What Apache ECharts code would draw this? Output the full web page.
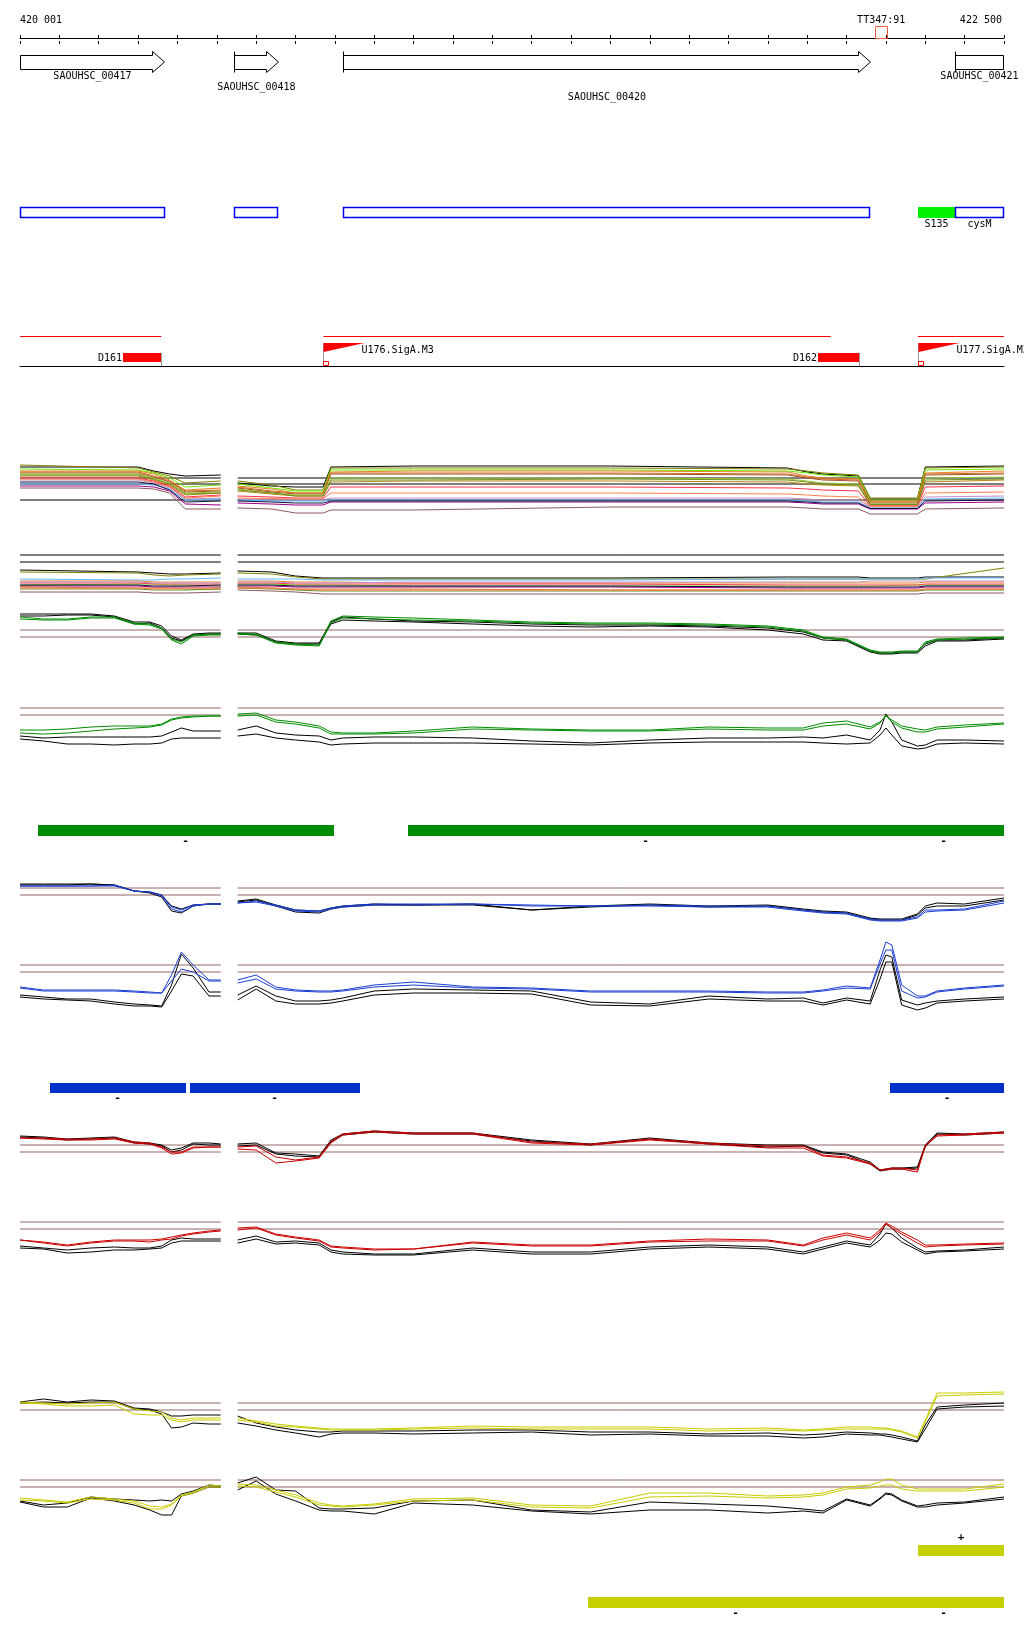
<!DOCTYPE html>
<html>
<head>
<meta charset="utf-8">
<title>SAOUHSC_00417 - SAOUHSC_00421</title>
<script src="https://cdn.jsdelivr.net/npm/echarts@6.0.0/dist/echarts.min.js"></script>
<style>
  html, body { margin: 0; padding: 0; background: #fff; }
  #chart { width: 1024px; height: 1640px; }
</style>
</head>
<body>
<div id="chart"></div>
<script>
const X_MIN = 420000
const X_MAX = 422500
const FONT = '10px "DejaVu Sans Mono", monospace'

// ruler
const rulerLabels = ['420 001', 'TT347:91', '422 500']
const rulerLabelPos = [420000, 422188, 422500]
const markerStart = [422172]
const markerEnd = [422203]

// genes
const geneNames = ['SAOUHSC_00417', 'SAOUHSC_00418', 'SAOUHSC_00420', 'SAOUHSC_00421']
const geneStart = [420000, 420544, 420821, 422375]
const geneEnd = [420369, 420659, 422162, 422500]
const geneLabelRow = [0, 1, 2, 0]

// transcription units
const unitStart = [420000, 420544, 420821, 422281, 422375]
const unitEnd = [420369, 420656, 422160, 422375, 422500]
const unitLabel = ['', '', '', 'S135', 'cysM']
const unitKind = ['cds', 'cds', 'cds', 'srna', 'cds']

// regulation
const segStart = [420000, 420771, 422281]
const segEnd = [420359, 422060, 422500]
const termName = ['D161', 'D162']
const termStart = [420262, 422027]
const termEnd = [420359, 422131]
const promName = ['U176.SigA.M3', 'U177.SigA.M3']
const promPos = [420771, 422281]

// segments (bars)
const greenBarStart = [420046, 420987, 422192]
const greenBarEnd = [420796, 422192, 422500]
const greenBarStrand = ['-', '-', '-']
const blueBarStart = [420076, 420432, 422210]
const blueBarEnd = [420420, 420862, 422500]
const blueBarStrand = ['-', '-', '-']
const yellowPlusStart = [422281]
const yellowPlusEnd = [422500]
const yellowPlusStrand = ['+']
const yellowMinusStart = [421444, 422192]
const yellowMinusEnd = [422192, 422500]
const yellowMinusStrand = ['-', '-']

// panel extents (gap between the two array panels)
const refPos = [420000, 420510, 420530, 420553, 422500]

// positions for the many-condition tracks
const posM = [420000, 420300, 420340, 420380, 420420, 420510, 420530, 420553, 420640, 420700, 420770, 420790, 421000, 421500, 421950, 422000, 422040, 422130, 422160, 422280, 422300, 422500]
// positions for the 2-colour tracks
const posG = [420000, 420060, 420120, 420180, 420240, 420290, 420330, 420360, 420385, 420410, 420440, 420480, 420510, 420530, 420553, 420600, 420650, 420700, 420760, 420790, 420820, 420900, 421000, 421150, 421300, 421450, 421600, 421750, 421900, 421990, 422040, 422100, 422160, 422185, 422200, 422215, 422240, 422280, 422300, 422330, 422400, 422500]

const multiColors = ['#000000', '#808000', '#66ee00', '#e8822a', '#a0522d', '#9acd32', '#b8860b', '#ff3050', '#c090c0', '#60b8ff', '#a0008a', '#101040', '#8b5a5a', '#d2691e', '#ff7f50', '#6b8e23']

const multiA = [
  [10.2,10.2,9.4,8.8,8.4,8.6,null,7.0,6.4,6.2,6.2,10.2,10.4,10.4,10.0,9.2,8.8,8.4,3.8,3.8,10.2,10.4],
  [10.6,10.0,9.2,8.4,7.0,7.4,null,7.4,6.6,5.6,5.6,10.0,10.0,10.0,9.8,9.4,9.0,8.6,4.0,4.0,10.0,10.2],
  [9.8,9.6,9.0,8.0,6.2,6.6,null,6.8,6.0,5.4,5.4,9.6,9.6,9.6,9.4,9.0,8.6,8.2,3.6,3.6,9.6,9.8],
  [9.4,9.4,8.8,7.6,5.6,6.0,null,6.4,5.8,5.0,5.0,9.2,9.4,9.4,9.2,8.4,8.0,7.8,3.4,3.4,9.0,9.4],
  [9.0,9.0,8.2,7.2,5.2,5.4,null,6.0,5.2,4.8,4.8,8.8,8.8,8.8,8.6,8.0,7.6,7.4,3.0,3.0,8.6,8.8],
  [8.8,8.8,8.0,7.0,5.0,5.2,null,5.8,5.0,4.6,4.6,8.0,8.0,8.0,7.8,7.4,7.0,6.8,2.8,2.8,8.0,8.2],
  [8.4,8.4,7.6,6.6,4.6,5.0,null,5.4,4.8,4.4,4.4,7.2,7.4,7.4,7.2,6.8,6.6,6.4,2.6,2.6,7.2,7.6],
  [8.0,8.0,7.4,6.4,4.2,4.6,null,4.4,4.2,4.0,4.0,6.2,6.2,6.2,6.0,5.8,5.6,5.4,2.4,2.4,6.2,6.4],
  [7.6,7.6,7.0,6.0,3.8,4.0,null,3.8,3.6,3.6,3.6,4.0,4.0,4.0,4.0,3.8,3.6,3.6,2.2,2.2,4.2,4.4],
  [6.8,6.8,6.6,5.8,3.6,3.8,null,3.6,3.4,3.4,3.4,3.6,3.6,3.6,3.6,3.4,3.2,3.2,2.0,2.0,3.8,4.0],
  [6.4,6.4,6.2,5.4,2.8,2.6,null,3.0,2.8,2.6,2.6,3.2,3.2,3.2,3.2,3.0,2.8,2.8,1.8,1.8,3.0,3.2],
  [7.2,7.2,6.8,5.6,3.2,3.4,null,3.4,3.2,3.0,3.0,3.4,3.4,3.4,3.4,3.2,3.0,3.0,1.9,1.9,3.4,3.6],
  [6.0,6.0,5.8,5.0,1.8,1.8,null,2.0,1.8,1.0,1.0,1.6,1.6,2.2,2.2,2.0,1.8,1.8,0.8,0.8,1.8,2.0],
  [9.2,9.2,8.4,7.4,5.4,5.6,null,6.2,5.4,5.0,5.0,9.0,9.0,9.0,8.8,8.2,7.8,7.6,3.2,3.2,8.8,9.0],
  [7.8,7.8,7.2,6.2,4.0,4.4,null,4.0,3.9,3.8,3.8,5.0,5.0,5.0,4.8,4.6,4.4,4.2,2.3,2.3,5.0,5.2],
  [8.6,8.6,7.8,6.8,4.8,5.0,null,5.6,5.0,4.4,4.4,7.6,7.6,7.8,7.6,7.2,6.8,6.6,2.7,2.7,7.6,7.8]
]
const multiARefs = [8.0, 6.8, 3.6]

const multiB = [
  [7.6,7.2,7.0,6.8,6.8,7.0,null,7.4,7.2,6.4,6.0,6.0,6.0,6.0,6.2,6.2,6.2,6.2,6.0,6.0,6.2,6.2],
  [7.2,7.0,6.6,6.4,6.6,6.8,null,7.0,6.8,6.2,5.8,5.8,5.8,5.8,5.8,5.8,5.8,5.8,5.8,5.8,5.8,8.0],
  [5.8,5.6,5.6,5.8,5.8,6.0,null,5.8,5.8,5.8,5.6,5.6,5.6,5.6,5.8,5.8,5.8,5.8,5.8,5.8,6.0,6.0],
  [5.4,5.4,5.2,5.2,5.2,5.2,null,5.4,5.4,5.2,5.2,5.2,5.0,5.0,5.0,5.0,5.0,5.0,5.0,5.0,5.2,5.2],
  [4.6,4.8,4.8,4.6,4.6,4.4,null,4.8,4.8,4.6,4.6,4.6,4.4,4.4,4.4,4.4,4.4,4.4,4.4,4.6,4.6,4.6],
  [5.0,5.0,4.8,4.8,4.8,4.8,null,5.0,5.0,4.8,4.8,4.8,4.8,4.8,4.6,4.6,4.6,4.6,4.6,4.6,4.8,4.8],
  [5.2,5.2,5.0,5.0,5.0,5.0,null,5.2,5.2,5.0,5.0,5.0,5.2,5.2,5.2,5.2,5.2,5.2,5.4,5.4,5.4,5.4],
  [4.4,4.4,4.2,4.2,4.2,4.2,null,4.4,4.4,4.2,4.2,4.2,4.2,4.2,4.0,4.0,4.0,4.0,4.0,4.0,4.2,4.2],
  [4.2,4.0,4.0,4.0,3.8,3.8,null,4.2,4.0,3.8,3.8,3.8,3.8,3.6,3.6,3.6,3.6,3.6,3.6,3.6,3.8,3.8],
  [3.8,3.8,3.6,3.6,3.6,3.8,null,4.0,3.8,3.6,3.4,3.4,3.4,3.4,3.4,3.4,3.4,3.4,3.4,3.4,3.6,3.6],
  [4.0,4.0,3.8,3.8,4.0,4.0,null,4.0,4.0,3.8,3.6,3.6,3.6,3.6,3.6,3.6,3.6,3.6,3.6,3.6,3.8,3.8],
  [4.6,4.6,4.4,4.4,4.4,4.6,null,4.6,4.6,4.4,4.4,4.4,4.4,4.4,4.2,4.2,4.2,4.2,4.2,4.2,4.4,4.4],
  [3.2,3.2,3.0,3.0,3.0,3.2,null,3.6,3.4,3.2,2.8,2.8,2.8,2.8,2.8,2.8,2.8,2.8,2.8,2.8,3.0,3.0]
]
const multiBColors = ['#000000', '#808000', '#60b8ff', '#e8822a', '#66ee00', '#ff3050', '#c090c0', '#a0008a', '#d2691e', '#6b8e23', '#ff7f50', '#101040', '#8b5a5a']
const multiBRefs = [10.6, 9.2]

// green condition
const green1Refs = [7.0, 5.6]
const green1BlackA = [10.2,10.2,10.2,10.2,9.8,8.6,8.6,7.8,5.8,5.0,6.2,6.4,6.4,null,6.4,6.4,4.8,4.4,4.4,8.6,9.6,9.2,8.8,8.6,8.2,8.0,8.0,7.8,7.4,6.6,5.4,5.0,2.8,2.4,2.4,2.4,2.6,2.6,4.2,5.0,5.0,5.4]
const green1BlackB = [9.8,9.8,10.0,10.0,9.6,8.2,8.4,7.4,5.4,4.8,6.0,6.2,6.2,null,6.2,6.0,4.6,4.2,4.2,8.2,9.0,8.8,8.6,8.2,7.8,7.6,7.8,7.6,7.0,6.2,5.0,4.8,2.6,2.2,2.2,2.2,2.4,2.4,3.8,4.8,4.8,5.2]
const green1A = [9.6,9.2,9.2,9.6,9.6,8.4,8.2,7.4,5.2,4.6,6.0,6.2,6.2,null,6.4,6.2,4.6,4.2,4.0,8.8,9.8,9.6,9.4,9.0,8.6,8.4,8.4,8.2,7.8,7.0,5.6,5.2,3.0,2.6,2.6,2.6,2.8,2.8,4.6,5.2,5.4,5.6]
const green1B = [9.2,9.0,9.0,9.4,9.4,8.2,8.0,7.2,5.0,4.2,5.8,6.0,6.0,null,6.2,6.0,4.4,4.0,3.8,8.4,9.4,9.2,9.0,8.8,8.4,8.2,8.2,8.0,7.6,6.8,5.4,5.0,2.8,2.4,2.4,2.4,2.6,2.6,4.4,5.0,5.2,5.4]

const green2Refs = [10.4, 9.0]
const green2A = [6.0,6.0,6.2,6.6,6.8,6.8,6.8,7.2,8.2,8.6,8.8,8.8,8.8,null,9.2,9.4,8.0,7.6,6.8,5.6,5.4,5.4,5.8,6.6,6.2,6.0,6.0,6.6,6.4,6.4,7.4,7.8,6.6,7.6,8.8,8.0,6.8,6.2,6.0,6.6,7.0,7.4]
const green2B = [5.4,5.2,5.4,5.8,6.2,6.4,6.6,7.0,8.0,8.4,8.6,8.8,8.8,null,8.8,9.0,7.6,7.2,6.4,5.2,5.2,5.2,5.4,6.2,6.0,5.8,5.8,6.2,6.0,6.0,6.8,7.2,6.2,7.4,9.0,7.6,6.4,5.6,5.6,6.2,6.6,7.2]
const green2BlackA = [4.8,4.4,4.6,4.6,4.6,4.6,4.6,4.8,5.6,6.4,5.8,5.8,5.8,null,6.0,6.8,5.4,5.0,4.8,4.0,4.4,4.6,4.6,4.4,3.8,3.4,4.0,4.4,4.4,4.6,4.4,5.0,4.0,6.0,9.2,7.6,4.0,2.8,3.0,4.0,4.0,3.8]
const green2BlackB = [4.2,3.8,3.2,3.2,3.0,3.2,3.2,3.4,4.2,4.4,4.4,4.4,4.4,null,4.8,5.2,4.4,4.0,3.6,3.0,3.2,3.4,3.4,3.4,3.2,3.0,3.4,3.6,3.6,3.6,3.4,3.2,3.4,5.0,6.4,5.0,2.8,2.2,2.4,3.2,3.4,3.2]

// blue condition
const blue1Refs = [9.4, 8.0]
const blue1BlackA = [10.2,10.2,10.2,10.2,10.0,8.8,8.6,8.0,5.8,5.2,6.0,6.2,6.2,null,6.8,7.2,6.0,5.0,4.8,5.4,5.8,6.2,6.0,6.2,5.0,5.8,6.2,5.8,6.0,5.2,4.8,4.6,3.4,3.2,3.2,3.2,3.2,4.2,5.8,6.4,6.2,7.4]
const blue1BlackB = [10.0,10.0,10.0,10.2,10.0,8.8,8.4,7.6,4.8,4.4,5.8,6.2,6.2,null,6.6,7.0,5.8,4.6,4.4,5.2,5.6,6.0,6.0,6.0,5.0,5.6,6.0,5.6,5.8,5.0,4.6,4.4,3.2,3.0,3.0,3.0,3.0,4.0,5.4,5.8,5.8,7.0]
const blue1A = [9.8,9.8,9.8,9.8,10.0,8.8,8.6,8.0,5.6,5.0,6.0,6.2,6.2,null,6.4,6.8,6.0,5.0,4.8,5.4,5.8,6.2,6.2,6.2,6.0,5.8,6.0,5.8,5.8,5.0,4.6,4.4,3.2,3.0,3.0,3.0,3.0,3.6,5.0,5.0,5.2,6.8]
const blue1B = [9.8,9.8,9.8,9.8,9.8,8.8,8.6,7.8,5.2,4.6,5.8,6.2,6.2,null,6.4,6.6,5.8,4.8,4.6,5.2,5.6,6.0,6.0,6.2,5.8,5.8,5.8,5.6,5.6,4.8,4.4,4.2,3.0,2.8,2.8,2.8,2.8,3.4,4.6,4.8,5.0,6.4]

const blue2Refs = [10.2, 8.8]
const blue2A = [5.8,5.2,5.2,5.2,5.2,5.0,4.8,4.6,8.2,12.8,10.2,7.2,7.2,null,7.2,8.2,5.8,5.2,5.0,5.0,5.2,6.2,6.8,5.8,5.6,5.0,5.0,5.0,4.8,4.8,5.2,6.0,5.6,11.2,14.8,14.2,6.2,4.0,4.0,5.0,5.6,6.2]
const blue2B = [5.6,5.0,5.0,5.0,5.0,4.8,4.6,4.6,7.0,9.4,8.8,7.0,7.0,null,6.6,7.4,5.4,5.0,4.8,4.8,5.0,5.8,6.2,5.6,5.4,4.8,4.8,4.8,4.6,4.6,5.0,5.6,5.4,10.4,13.2,13.2,5.0,3.6,3.8,4.8,5.4,6.0]
const blue2BlackA = [4.2,3.8,3.4,3.4,2.8,2.4,2.2,2.0,6.2,12.4,9.6,4.8,4.8,null,4.2,6.0,4.0,3.0,3.0,3.2,3.6,5.0,5.4,5.2,5.0,2.8,2.4,4.0,3.4,3.6,2.6,3.6,3.0,9.2,12.2,11.8,3.2,2.2,2.6,3.0,3.4,3.8]
const blue2BlackB = [3.8,3.4,3.2,3.0,2.4,2.0,2.0,1.8,5.0,8.4,8.0,4.0,4.0,null,3.2,5.4,3.0,2.4,2.4,2.6,3.0,4.2,4.6,4.6,4.4,2.2,2.0,3.4,3.0,3.0,2.2,3.2,2.4,7.4,10.8,10.8,2.2,1.2,1.6,2.6,3.0,3.4]

// red condition
const red1Refs = [7.0, 5.6]
const red1BlackA = [8.8,8.6,8.2,8.4,8.6,7.6,7.4,7.0,6.0,6.4,7.4,7.4,7.2,null,7.2,7.4,5.4,5.2,4.8,8.0,9.2,9.8,9.4,9.4,8.0,7.2,8.4,7.4,7.0,7.0,5.6,5.2,3.6,2.0,2.2,2.4,2.4,2.6,7.0,9.4,9.2,9.6]
const red1BlackB = [8.6,8.4,8.0,8.2,8.4,7.4,7.2,6.8,5.6,6.0,7.2,7.0,7.0,null,6.8,7.0,5.2,4.8,4.6,7.6,9.0,9.6,9.2,9.2,7.8,7.0,8.2,7.2,6.6,6.8,5.4,5.0,3.2,1.8,2.0,2.2,2.2,2.4,6.6,9.2,9.0,9.4]
const red1A = [8.4,8.4,8.2,8.2,8.4,7.6,7.4,6.6,5.6,5.6,6.6,6.6,6.6,null,6.6,6.8,4.6,4.0,4.6,7.8,9.2,9.8,9.4,9.4,7.6,7.2,8.2,7.4,6.8,6.8,5.0,4.6,3.4,2.0,2.2,2.4,2.4,2.0,7.0,9.0,9.2,9.6]
const red1B = [8.4,8.2,8.0,8.0,8.2,7.4,7.2,6.4,5.2,5.4,6.4,6.6,6.6,null,6.2,6.0,3.4,3.8,4.4,7.4,9.0,9.6,9.2,9.2,7.4,7.0,8.0,7.2,6.4,6.4,4.8,4.4,3.2,2.0,2.0,2.2,2.2,1.6,6.8,8.8,9.0,9.4]

const red2Refs = [8.6, 7.2]
const red2A = [5.0,4.6,4.0,4.6,5.0,5.0,5.0,5.2,5.6,6.0,6.4,6.8,7.0,null,7.4,7.6,6.2,5.6,5.0,3.8,3.6,3.2,3.2,4.6,4.0,4.0,4.8,5.2,5.0,4.0,5.4,6.4,5.4,7.0,8.4,7.8,6.6,5.0,4.0,4.0,4.2,4.4]
const red2B = [5.0,4.4,3.8,4.4,4.8,4.8,4.6,5.0,5.2,5.8,6.2,6.6,6.8,null,7.0,7.4,6.0,5.4,4.8,3.6,3.4,3.0,3.2,4.4,3.8,3.8,4.6,4.8,4.8,3.8,5.0,6.0,5.0,6.6,8.2,7.4,6.2,4.4,3.6,3.8,4.0,4.2]
const red2BlackA = [3.8,3.4,3.0,3.4,3.6,3.4,3.4,3.8,5.0,5.4,5.2,5.2,5.2,null,5.0,5.8,4.6,4.8,4.4,3.0,2.6,2.2,2.2,3.4,2.6,2.6,3.6,4.0,3.6,2.6,3.6,4.8,4.0,6.2,8.2,7.4,5.4,3.4,2.6,2.8,3.0,3.6]
const red2BlackB = [3.4,3.2,2.4,2.6,3.0,3.0,3.2,3.4,4.4,4.8,4.8,4.8,4.8,null,4.4,5.2,4.2,4.4,4.0,2.6,2.2,2.0,2.0,3.0,2.2,2.2,3.2,3.6,3.2,2.2,3.2,4.4,3.6,5.0,6.4,6.2,4.6,3.0,2.2,2.6,2.8,3.2]

// yellow condition
const yellow1Refs = [8.4, 7.0]
const yellow1A = [8.6,8.4,8.2,8.4,8.6,7.2,6.8,6.6,5.4,5.0,5.4,5.4,5.4,null,5.4,4.8,4.2,3.8,3.4,3.2,3.2,3.2,3.4,3.8,3.6,3.6,3.6,3.2,3.4,3.0,3.2,3.6,3.6,3.4,3.4,3.2,2.8,1.6,5.0,10.4,10.4,10.6]
const yellow1B = [8.4,8.2,7.8,7.8,8.0,6.2,6.0,6.0,5.0,4.6,5.0,5.0,5.0,null,5.0,4.6,3.8,3.6,3.2,3.0,3.0,3.0,3.2,3.4,3.2,3.2,3.2,2.8,3.0,2.8,3.0,3.2,3.2,3.2,3.2,3.0,2.6,1.4,4.6,9.8,10.0,10.2]
const yellow1BlackA = [8.6,9.2,8.6,9.0,8.8,7.4,7.2,6.6,5.8,5.8,6.0,6.0,6.0,null,5.8,4.4,3.6,3.0,2.6,2.6,2.8,2.8,2.8,3.0,3.0,2.6,2.6,2.2,2.4,2.0,2.2,2.6,2.4,2.2,2.2,2.0,1.6,0.8,4.0,7.6,8.0,8.4]
const yellow1BlackB = [8.4,8.6,8.4,8.6,8.6,7.2,7.0,6.2,3.4,3.6,4.4,4.2,4.2,null,4.4,3.8,3.0,2.4,1.6,2.2,2.4,2.4,2.2,2.4,2.6,2.0,2.2,1.8,1.8,1.4,1.6,2.2,2.0,2.0,1.8,1.6,1.2,0.6,3.2,7.2,7.6,7.8]

const yellow2Refs = [9.0, 7.6]
const yellow2A = [5.4,5.0,4.6,5.6,5.2,4.8,3.8,3.6,4.2,6.0,6.6,8.0,7.8,null,8.2,8.0,7.0,6.0,4.4,4.0,3.8,4.2,5.2,5.4,4.0,3.8,6.4,6.4,5.8,6.0,6.4,7.6,8.0,8.6,9.2,9.2,8.0,7.2,7.2,7.2,7.2,8.2]
const yellow2B = [5.0,4.8,4.4,5.2,5.0,4.4,3.2,3.2,4.0,5.8,6.4,7.6,7.6,null,7.8,7.6,6.6,5.6,4.0,3.8,3.6,4.0,4.8,5.0,3.6,3.4,5.6,5.8,5.4,5.6,6.0,7.2,7.4,7.8,8.0,8.0,7.2,6.8,6.8,6.8,6.8,7.6]
const yellow2BlackA = [4.8,4.0,4.4,5.6,5.2,5.0,4.8,5.0,4.8,6.2,6.8,8.0,7.8,null,8.4,9.6,7.0,6.8,3.4,3.2,3.2,3.4,4.8,5.0,3.0,2.6,4.6,4.2,3.8,3.2,2.8,5.2,4.0,5.4,6.4,6.2,5.0,3.8,4.0,4.4,4.6,5.6]
const yellow2BlackB = [4.6,3.6,3.6,5.4,4.8,4.0,3.0,2.0,2.0,5.8,6.4,7.6,7.6,null,7.0,8.8,6.2,4.8,3.0,2.8,2.8,2.2,4.4,4.0,2.8,2.2,3.0,3.0,2.4,2.8,2.4,5.0,3.8,5.2,6.2,6.0,4.8,3.6,3.6,4.0,4.4,5.2]

const GREEN = '#008c00'
const BLUE = '#1a3ed2'
const RED = '#cc0000'
const YELLOW = '#c8cc00'
const REF = '#966464'

const grids = []
const xAxes = []
const yAxes = []
const series = []

function addGrid(top, height, ymax, xAxisExtra) {
  const idx = grids.length
  grids.push({ left: 20, right: 20, top, height, outerBoundsMode: 'none' })
  xAxes.push(Object.assign({
    type: 'value', gridIndex: idx, min: X_MIN, max: X_MAX, show: false
  }, xAxisExtra || {}))
  yAxes.push({ type: 'value', gridIndex: idx, min: 0, max: ymax, show: false })
  return idx
}

function lineSeries(g, pos, vals, color, z) {
  return {
    type: 'line',
    xAxisIndex: g,
    yAxisIndex: g,
    data: pos.map((p, i) => [p, vals[i]]),
    symbol: 'none',
    connectNulls: false,
    silent: true,
    z,
    lineStyle: { color, width: 1 }
  }
}

function addTrack(top, height, refs, refColor, pos, lines) {
  const g = addGrid(top, height, height / 5)
  refs.forEach(v => series.push(lineSeries(g, refPos, [v, v, null, v, v], refColor, 1)))
  lines.forEach(l => series.push(lineSeries(g, pos, l[0], l[1], 2)))
}

function text(str, x, y, align, extra) {
  return {
    type: 'text',
    silent: true,
    style: Object.assign({ text: str, x, y, align, verticalAlign: 'middle', font: FONT, fill: '#000' }, extra || {})
  }
}

function customSeries(g, starts, ends, renderItem) {
  return {
    type: 'custom',
    xAxisIndex: g,
    yAxisIndex: g,
    silent: true,
    data: starts.map((s, i) => [s, ends[i], 0]),
    encode: { x: [0, 1], y: 2 },
    renderItem
  }
}

// ---- ruler ----
const gRulerUp = addGrid(35, 3, 1, {
  show: true, position: 'bottom', interval: 100,
  axisLine: { show: true, lineStyle: { color: '#000', width: 1 } },
  axisTick: { show: true, inside: true, length: 3, lineStyle: { color: '#000' } },
  axisLabel: { show: false }, splitLine: { show: false }
})
addGrid(38, 3, 1, {
  show: true, position: 'top', interval: 100,
  axisLine: { show: false },
  axisTick: { show: true, inside: true, length: 3, lineStyle: { color: '#000' } },
  axisLabel: { show: false }, splitLine: { show: false }
})
series.push(customSeries(gRulerUp, rulerLabelPos, rulerLabelPos, (params, api) => {
  const i = params.dataIndex
  const cs = params.coordSys
  const x = api.coord([rulerLabelPos[i], 0])[0]
  const align = rulerLabelPos[i] === X_MIN ? 'left' : (rulerLabelPos[i] === X_MAX ? 'right' : 'center')
  return text(rulerLabels[i], align === 'right' ? x - 2 : x, cs.y + cs.height - 17.5, align)
}))
series.push(customSeries(gRulerUp, markerStart, markerEnd, (params, api) => {
  const i = params.dataIndex
  const cs = params.coordSys
  const x0 = api.coord([markerStart[i], 0])[0]
  const x1 = api.coord([markerEnd[i], 0])[0]
  const bot = cs.y + cs.height
  return {
    type: 'rect',
    shape: { x: Math.round(x0) + 0.5, y: bot - 12 + 0.5, width: Math.round(x1 - x0), height: 12 },
    style: { fill: 'none', stroke: '#f05a3c', lineWidth: 1 }
  }
}))

// ---- genes ----
const gGene = addGrid(51, 21, 1)
series.push(customSeries(gGene, geneStart, geneEnd, (params, api) => {
  const i = params.dataIndex
  const cs = params.coordSys
  const x0 = Math.round(api.coord([geneStart[i], 0])[0]) + 0.5
  const x1 = Math.round(api.coord([geneEnd[i], 0])[0]) - 0.5
  const top = cs.y + 0.5
  const bot = cs.y + cs.height + 0.5
  const mid = (top + bot) / 2
  const b0 = top + 4
  const b1 = bot - 3
  const head = geneEnd[i] < X_MAX
  const hx = x1 - 12
  const pts = head
    ? [[x0, b0], [hx, b0], [hx, top], [x1, mid], [hx, bot], [hx, b1], [x0, b1]]
    : [[x0, b0], [x1, b0], [x1, b1], [x0, b1]]
  const children = [{
    type: 'polygon', shape: { points: pts },
    style: { fill: '#fff', stroke: '#000', lineWidth: 1 }
  }]
  if (geneStart[i] > X_MIN) {
    children.push({ type: 'line', shape: { x1: x0, y1: top, x2: x0, y2: bot }, style: { stroke: '#000', lineWidth: 1 } })
  }
  const lx = (x0 + x1) / 2
  children.push(text(geneNames[i], lx, bot + 4 + geneLabelRow[i] * 10.5, 'center'))
  return { type: 'group', children }
}))

// ---- transcription units ----
const gUnit = addGrid(207, 10, 1)
series.push(customSeries(gUnit, unitStart, unitEnd, (params, api) => {
  const i = params.dataIndex
  const cs = params.coordSys
  const x0 = Math.round(api.coord([unitStart[i], 0])[0])
  const x1 = Math.round(api.coord([unitEnd[i], 0])[0])
  const isSrna = unitKind[i] === 'srna'
  const children = [{
    type: 'rect',
    shape: { x: x0 + 0.5, y: cs.y + 0.5, width: x1 - x0 - 1, height: cs.height },
    style: isSrna ? { fill: '#00f000', stroke: '#00f000', lineWidth: 1 } : { fill: '#fff', stroke: '#0000ee', lineWidth: 1.5 }
  }]
  if (unitLabel[i]) children.push(text(unitLabel[i], (x0 + x1) / 2, cs.y + cs.height + 7, 'center'))
  return { type: 'group', children }
}))

// ---- regulation row ----
const gReg = addGrid(336, 30, 1, {
  show: true, position: 'bottom',
  axisLine: { show: true, lineStyle: { color: '#000', width: 1 } },
  axisTick: { show: false }, axisLabel: { show: false }, splitLine: { show: false }
})
series.push(customSeries(gReg, segStart, segEnd, (params, api) => {
  const i = params.dataIndex
  const cs = params.coordSys
  const x0 = api.coord([segStart[i], 0])[0]
  const x1 = api.coord([segEnd[i], 0])[0]
  return { type: 'line', shape: { x1: x0, y1: cs.y + 0.5, x2: x1, y2: cs.y + 0.5 }, style: { stroke: '#ff0000', lineWidth: 1 } }
}))
series.push(customSeries(gReg, termStart, termEnd, (params, api) => {
  const i = params.dataIndex
  const cs = params.coordSys
  const x0 = Math.round(api.coord([termStart[i], 0])[0])
  const x1 = Math.round(api.coord([termEnd[i], 0])[0])
  const bot = cs.y + cs.height
  return {
    type: 'group',
    children: [
      { type: 'rect', shape: { x: x0, y: cs.y + 17, width: x1 - x0, height: 9 }, style: { fill: '#ff0000' } },
      { type: 'line', shape: { x1: x1 + 0.5, y1: cs.y + 17, x2: x1 + 0.5, y2: bot }, style: { stroke: '#999', lineWidth: 1 } },
      text(termName[i], x0 - 1, cs.y + 22, 'right')
    ]
  }
}))
series.push(customSeries(gReg, promPos, promPos, (params, api) => {
  const i = params.dataIndex
  const cs = params.coordSys
  const x0 = Math.round(api.coord([promPos[i], 0])[0]) + 0.5
  const bot = cs.y + cs.height
  const ft = cs.y + 7
  return {
    type: 'group',
    children: [
      { type: 'line', shape: { x1: x0, y1: ft, x2: x0, y2: bot }, style: { stroke: '#999', lineWidth: 1 } },
      { type: 'polygon', shape: { points: [[x0, ft], [x0 + 41, ft], [x0, ft + 9]] }, style: { fill: '#ff0000' } },
      { type: 'rect', shape: { x: x0, y: bot - 4.5, width: 5, height: 4 }, style: { fill: '#fff', stroke: '#ff0000', lineWidth: 1 } },
      text(promName[i], x0 + 38, ft + 7, 'left')
    ]
  }
}))

// ---- many-condition tracks ----
addTrack(458, 60, multiARefs, '#000', posM, multiA.map((v, i) => [v, multiColors[i]]))
addTrack(548, 60, multiBRefs, '#000', posM, multiB.map((v, i) => [v, multiBColors[i]]))

// ---- green ----
addTrack(605, 60, green1Refs, REF, posG, [
  [green1BlackB, '#000'], [green1BlackA, '#000'], [green1B, GREEN], [green1A, GREEN]
])
addTrack(700, 60, green2Refs, REF, posG, [
  [green2BlackB, '#000'], [green2BlackA, '#000'], [green2B, GREEN], [green2A, GREEN]
])

function addBars(top, height, starts, ends, strands, color) {
  const g = addGrid(top, height, 1)
  series.push(customSeries(g, starts, ends, (params, api) => {
    const i = params.dataIndex
    const cs = params.coordSys
    const x0 = Math.round(api.coord([starts[i], 0])[0])
    const x1 = Math.round(api.coord([ends[i], 0])[0])
    const plus = strands[i] === '+'
    return {
      type: 'group',
      children: [
        { type: 'rect', shape: { x: x0, y: cs.y, width: Math.min(x1 + 1, 1004) - x0, height: cs.height }, style: { fill: color } },
        text(strands[i], (x0 + x1) / 2, plus ? cs.y - 8 : cs.y + cs.height + 5, 'center', { font: 'bold 11px "DejaVu Sans Mono", monospace' })
      ]
    }
  }))
}

addBars(825, 11, greenBarStart, greenBarEnd, greenBarStrand, GREEN)

// ---- blue ----
addTrack(875, 60, blue1Refs, REF, posG, [
  [blue1BlackB, '#000'], [blue1BlackA, '#000'], [blue1B, BLUE], [blue1A, BLUE]
])
addTrack(936, 80, blue2Refs, REF, posG, [
  [blue2BlackB, '#000'], [blue2BlackA, '#000'], [blue2B, BLUE], [blue2A, BLUE]
])
addBars(1083, 10, blueBarStart, blueBarEnd, blueBarStrand, '#0030c8')

// ---- red ----
addTrack(1120, 60, red1Refs, REF, posG, [
  [red1BlackB, '#000'], [red1BlackA, '#000'], [red1B, RED], [red1A, RED]
])
addTrack(1215, 50, red2Refs, REF, posG, [
  [red2BlackB, '#000'], [red2BlackA, '#000'], [red2B, RED], [red2A, RED]
])

// ---- yellow ----
addTrack(1385, 60, yellow1Refs, REF, posG, [
  [yellow1BlackB, '#000'], [yellow1BlackA, '#000'], [yellow1B, YELLOW], [yellow1A, YELLOW]
])
addTrack(1470, 55, yellow2Refs, REF, posG, [
  [yellow2BlackB, '#000'], [yellow2BlackA, '#000'], [yellow2B, YELLOW], [yellow2A, YELLOW]
])
addBars(1545, 11, yellowPlusStart, yellowPlusEnd, yellowPlusStrand, '#c4d000')
addBars(1597, 11, yellowMinusStart, yellowMinusEnd, yellowMinusStrand, '#c4d000')

const chart = echarts.init(document.getElementById('chart'), null, { renderer: 'canvas' })
chart.setOption({
  backgroundColor: '#fff',
  animation: false,
  grid: grids,
  xAxis: xAxes,
  yAxis: yAxes,
  series
})
</script>
</body>
</html>
